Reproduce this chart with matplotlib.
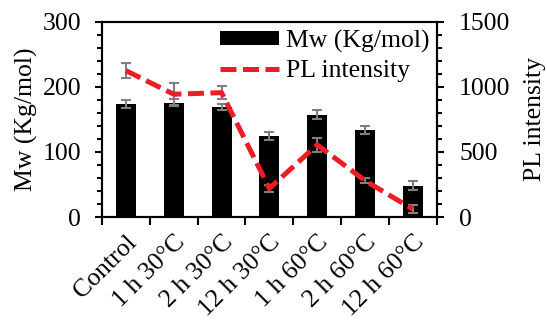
import matplotlib
matplotlib.use("Agg")
import matplotlib.pyplot as plt
import numpy as np
from matplotlib.ticker import MultipleLocator

plt.rcParams["font.family"] = ["Liberation Serif", "DejaVu Serif"]
plt.rcParams["font.size"] = 18.5

categories = ["Control", "1 h 30\u00b0C", "2 h 30\u00b0C", "12 h 30\u00b0C",
              "1 h 60\u00b0C", "2 h 60\u00b0C", "12 h 60\u00b0C"]
mw = [174, 176, 169, 124, 157, 134, 48]
mw_err = [6, 6, 5, 6, 7, 6, 7]
pl = [1125, 944, 956, 220, 555, 280, 60]
pl_err = [60, 85, 50, 25, 55, 20, 30]

fig = plt.figure(figsize=(5.47, 3.22), dpi=100)
ax = fig.add_axes([0.1865, 0.326, 0.612, 0.606])
x = np.arange(len(categories))

ax.bar(x, mw, width=0.42, color="black", label="Mw (Kg/mol)", zorder=2)
ax.errorbar(x, mw, yerr=mw_err, fmt="none", ecolor="#808080",
            elinewidth=1.5, capsize=3.5, capthick=1.5, zorder=3)
ax.set_ylim(0, 300)
ax.set_xlim(-0.5, len(categories) - 0.5)
ax.yaxis.set_major_locator(MultipleLocator(100))
ax.yaxis.set_minor_locator(MultipleLocator(20))
ax.set_ylabel("Mw (Kg/mol)", labelpad=3)

ax.set_xticks(np.arange(len(categories) + 1) - 0.5)
ax.set_xticklabels([])
ax.set_xticks(x, minor=True)
ax.set_xticklabels(categories, minor=True, rotation=45, ha="right",
                   rotation_mode="anchor")
ax.tick_params(axis="x", which="minor", length=0, pad=10)
ax.tick_params(axis="x", which="major", direction="out", length=6, width=1.5)
ax.tick_params(axis="y", which="major", direction="out", length=5, width=1.5,
               pad=10)
ax.tick_params(axis="y", which="minor", direction="out", length=3.5, width=1.5)

ax2 = ax.twinx()
ax2.errorbar(x, pl, yerr=pl_err, fmt="none", ecolor="#808080",
             elinewidth=1.5, capsize=3.5, capthick=1.5, zorder=3)
ax2.plot(x, pl, color="#ee1c24", linestyle=(0, (3.2, 1.3)), linewidth=3.6,
         label="PL intensity", zorder=4)
ax2.set_ylim(0, 1500)
ax2.yaxis.set_major_locator(MultipleLocator(500))
ax2.yaxis.set_minor_locator(MultipleLocator(100))
ax2.set_ylabel("PL intensity", labelpad=10)
ax2.tick_params(axis="y", which="major", direction="out", length=5, width=1.5,
                pad=11)
ax2.tick_params(axis="y", which="minor", direction="out", length=3.5, width=1.5)

for a in (ax, ax2):
    for s in a.spines.values():
        s.set_linewidth(1.5)

h1, l1 = ax.get_legend_handles_labels()
h2, l2 = ax2.get_legend_handles_labels()
ax2.legend(h1 + h2, l1 + l2, loc="upper right", frameon=False,
           borderaxespad=0.2, borderpad=0.1, handlelength=2.3,
           handleheight=0.5, handletextpad=0.25, labelspacing=0.3,
           fontsize=18.5)

fig.savefig("out.png", dpi=100)
